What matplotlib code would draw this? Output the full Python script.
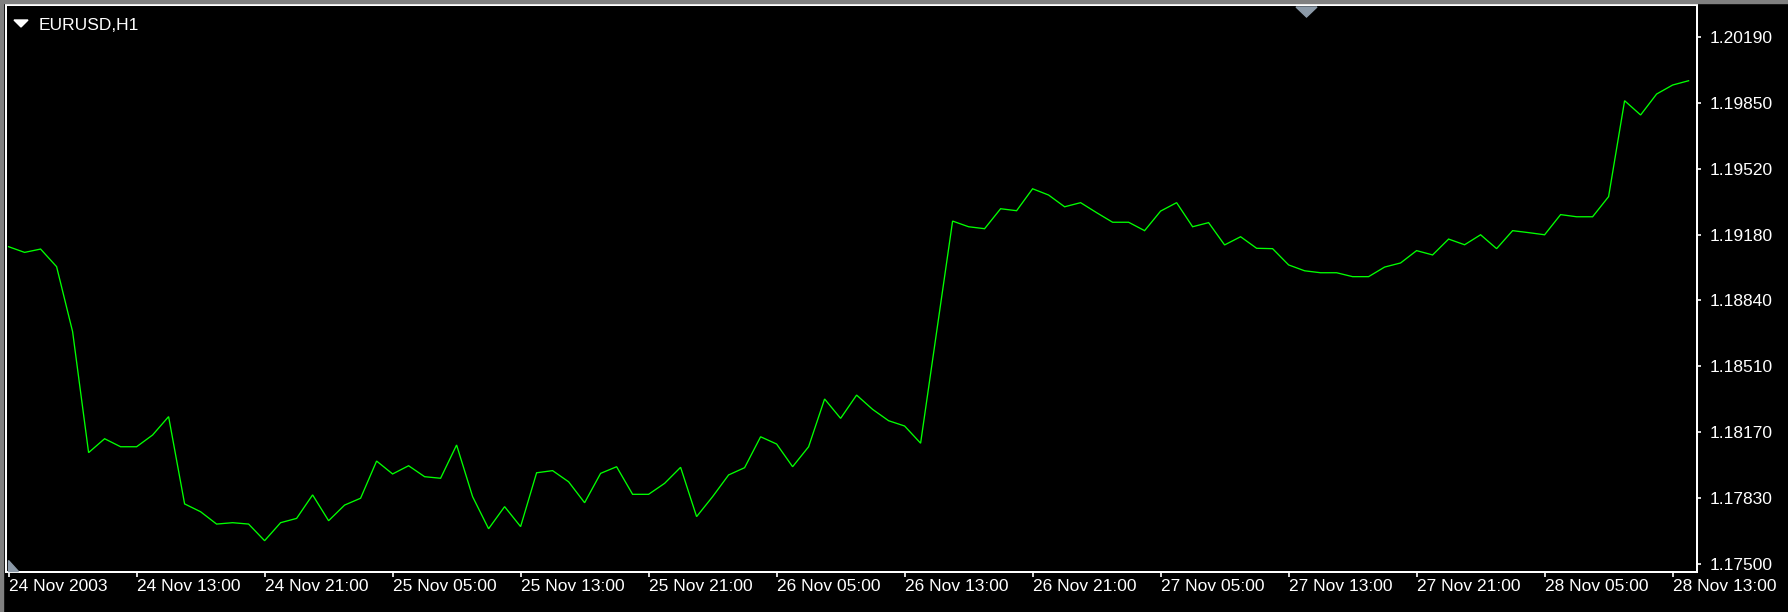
import numpy as np
import matplotlib
matplotlib.use('Agg')
import matplotlib.pyplot as plt
from matplotlib.patches import Polygon, Rectangle

# EURUSD hourly closes, 24 Nov 2003 05:00 -> 28 Nov 2003 14:00
closes = [
    1.19119, 1.19090, 1.19107, 1.19017, 1.18685, 1.18067, 1.18138, 1.18097,
    1.18097, 1.18157, 1.18251, 1.17805, 1.17765, 1.17702, 1.17709, 1.17702,
    1.17617, 1.17709, 1.17731, 1.17851, 1.17719, 1.17799, 1.17834, 1.18024,
    1.17958, 1.18000, 1.17944, 1.17936, 1.18106, 1.17842, 1.17678, 1.17791,
    1.17689, 1.17964, 1.17975, 1.17918, 1.17811, 1.17961, 1.17995, 1.17854,
    1.17854, 1.17910, 1.17992, 1.17740, 1.17842, 1.17953, 1.17990, 1.18148,
    1.18111, 1.17995, 1.18097, 1.18341, 1.18242, 1.18361, 1.18288, 1.18230,
    1.18203, 1.18115, 1.18683, 1.19250, 1.19221, 1.19211, 1.19313, 1.19303,
    1.19415, 1.19383, 1.19323, 1.19344, 1.19293, 1.19244, 1.19244, 1.19201,
    1.19301, 1.19344, 1.19221, 1.19242, 1.19128, 1.19170, 1.19111, 1.19109,
    1.19026, 1.18996, 1.18986, 1.18986, 1.18966, 1.18966, 1.19015, 1.19036,
    1.19099, 1.19077, 1.19158, 1.19129, 1.19180, 1.19109, 1.19201, 1.19191,
    1.19180, 1.19283, 1.19272, 1.19272, 1.19375, 1.19865, 1.19792, 1.19899,
    1.19945, 1.19967,
]

x_labels = ['24 Nov 2003', '24 Nov 13:00', '24 Nov 21:00', '25 Nov 05:00',
            '25 Nov 13:00', '25 Nov 21:00', '26 Nov 05:00', '26 Nov 13:00',
            '26 Nov 21:00', '27 Nov 05:00', '27 Nov 13:00', '27 Nov 21:00',
            '28 Nov 05:00', '28 Nov 13:00']
y_labels = ['1.17500', '1.17830', '1.18170', '1.18510', '1.18840',
            '1.19180', '1.19520', '1.19850', '1.20190']
title = 'EURUSD,H1'

W, H = 1788, 612
fig = plt.figure(figsize=(W / 100, H / 100), dpi=100, facecolor='black')

def fx(px):
    return px / W

def fy(py):
    return 1 - py / H

ax = fig.add_axes([fx(6), fy(572), fx(1697) - fx(6), fy(5) - fy(572)])
ax.set_facecolor('black')

bars = np.arange(len(closes))
ax.plot(bars, closes, color='#00ff00', lw=0.95, solid_joinstyle='miter')

ax.set_xlim(-0.1625, 105.525)
ax.set_ylim(1.174571, 1.203539)

font = dict(family=['Liberation Sans', 'DejaVu Sans'], size=12.5, color='white')

ax.set_xticks(np.arange(len(x_labels)) * 8)
ax.set_xticklabels(x_labels, ha='left', **font)
ax.set_yticks(np.linspace(float(y_labels[0]), float(y_labels[-1]), len(y_labels)))
ax.set_yticklabels(y_labels, **font)
ax.yaxis.tick_right()
ax.tick_params(axis='x', colors='white', length=3.6, width=1.2, pad=1.5)
ax.tick_params(axis='y', colors='white', length=3, width=1.2, pad=6)
for s in ax.spines.values():
    s.set_color('white')
    s.set_linewidth(1.45)

# window decorations
fig.patches.append(Rectangle((0, fy(2.5)), 1, 2.5 / H, transform=fig.transFigure,
                             color='#808080', zorder=0))
fig.patches.append(Rectangle((0, 0), 2.7 / W, 1, transform=fig.transFigure,
                             color='#808080', zorder=0))
gray_tri = '#8c9aa8'
fig.patches.append(Polygon([(fx(1296), fy(7)), (fx(1317), fy(7)), (fx(1306.5), fy(17))],
                           closed=True, transform=fig.transFigure, color=gray_tri))
fig.patches.append(Polygon([(fx(7.5), fy(560)), (fx(7.5), fy(571)), (fx(18), fy(571))],
                           closed=True, transform=fig.transFigure, color=gray_tri))
fig.patches.append(Polygon([(fx(14), fy(20)), (fx(28), fy(20)), (fx(21), fy(27))],
                           closed=True, transform=fig.transFigure, color='white'))

fig.text(fx(39), fy(29.5), title, va='baseline', ha='left', **font)

fig.savefig('out.png', dpi=100, facecolor='black')
